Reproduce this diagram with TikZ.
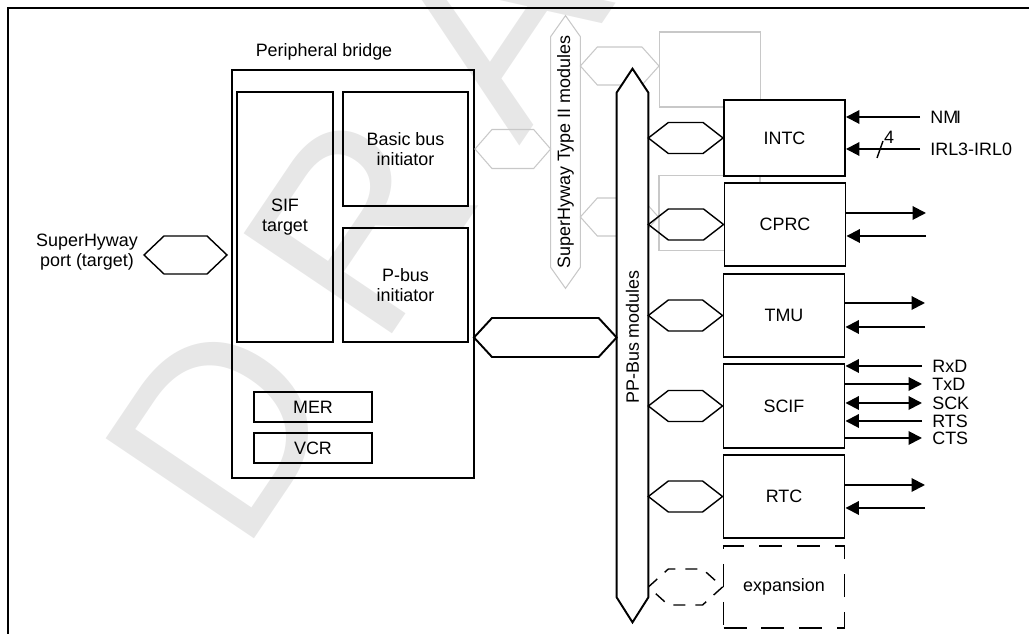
\documentclass[tikz,border=0pt]{standalone}
\usepackage{fontspec}
\setmainfont{Liberation Sans}
\usetikzlibrary{calc,arrows.meta,positioning}
\definecolor{wmGray}{RGB}{231,231,231}
\definecolor{shGray}{RGB}{200,200,200}
\newcommand{\pxl}{0.02cm}

\tikzset{
  blk/.style={draw, line width=1.1pt, inner sep=0pt, align=center},
  modbox/.style={blk, fill=white, minimum width=121*\pxl},
  ghostbox/.style={draw=shGray, line width=0.6pt, inner sep=0pt,
    minimum width=101*\pxl, minimum height=75*\pxl},
  ghostline/.style={draw=shGray, line width=0.6pt},
  hexline/.style={line width=0.8pt},
  hexlink/.style 2 args={to path={-- ($(\tikztostart)+(#1,-#2)$)
    -- ($(\tikztotarget)+(-#1,-#2)$) -- (\tikztotarget)
    -- ($(\tikztotarget)+(-#1,#2)$) -- ($(\tikztostart)+(#1,#2)$) -- cycle}},
  sig/.style={line width=1.1pt, -{Triangle[length=0.27cm,width=0.27cm]}},
  sigboth/.style={line width=1.1pt, {Triangle[length=0.27cm,width=0.27cm]}-{Triangle[length=0.27cm,width=0.27cm]}},
  sigtxt/.style={anchor=west, inner xsep=0.2cm, inner ysep=0pt},
}

\begin{document}
\begin{tikzpicture}[x=0.02cm, y=-0.02cm,
    every node/.style={font=\fontsize{10.2}{11.7}\selectfont}]
    \useasboundingbox (0,0) rectangle (1029,634);

    % watermark
    \node[text=wmGray, font=\fontsize{148}{148}\selectfont, rotate=56,
      anchor=base west, inner sep=0pt] (wm) at (242,557)
      {D\kern1.2cm R\kern1.2cm A\kern1.2cm F\kern1.2cm T};

    % frame
    \draw[line width=1.3pt] (1029,8) -- (8,8) -- (8,634);

    % peripheral bridge
    \node[blk, minimum width=242*\pxl, minimum height=408*\pxl] (bridge) at (353,274) {};
    \node (brlbl) at (324,52) {Peripheral bridge};
    \node[blk, minimum width=96*\pxl, minimum height=250*\pxl] (sif) at (285,217) {SIF\\target};
    \node[blk, minimum width=125*\pxl, minimum height=114*\pxl] (basic) at (405.5,149) {Basic bus\\initiator};
    \node[blk, minimum width=125*\pxl, minimum height=114*\pxl] (pbus) at (405.5,285) {P-bus\\initiator};
    \node[blk, minimum width=118*\pxl, minimum height=30*\pxl] (mer) at (313,407) {MER};
    \node[blk, minimum width=118*\pxl, minimum height=30*\pxl] (vcr) at (313,448) {VCR};

    % SuperHyway port
    \node[align=center] (port) at (87,252) {SuperHyway\\port (target)};
    \coordinate (portR) at (227,255);
    \draw[hexline, hexlink={20}{19}] (port.east |- portR) to (portR);

    % SuperHyway Type II modules (grey)
    \node[inner sep=0pt, minimum width=29*\pxl, minimum height=230*\pxl] (shbus) at (565.5,152) {};
    \draw[ghostline] (shbus.south west) -- (shbus.north west) -- ($(shbus.north)+(0,-21)$)
      -- (shbus.north east) -- (shbus.south east) -- ($(shbus.south)+(0,21)$) -- cycle;
    \node[rotate=90] (shlbl) at (shbus.center) {SuperHyway Type II modules};
    \node[ghostbox] (ghost1) at (710,69.5) {};
    \node[ghostbox] (ghost2) at (709.5,213) {};
    \coordinate (g1in) at ($(ghost1.west)+(0,-3.5)$);
    \coordinate (g2in) at ($(ghost2.west)+(0,4)$);
    \draw[ghostline, hexlink={17}{19.5}] (bridge.east |- basic.east) to (shbus.west |- basic.east);
    \draw[ghostline, hexlink={17}{19}] (shbus.east |- g1in) to (g1in);
    \draw[ghostline, hexlink={17}{19}] (shbus.east |- g2in) to (g2in);

    % PP-Bus
    \node[inner sep=0pt, minimum width=31*\pxl, minimum height=504*\pxl] (ppbus) at (632.5,345) {};
    \filldraw[fill=white, line width=1.1pt] (ppbus.south west) -- (ppbus.north west)
      -- ($(ppbus.north)+(0,-24)$) -- (ppbus.north east) -- (ppbus.south east)
      -- ($(ppbus.south)+(0,25)$) -- cycle;
    \node[rotate=90] (pplbl) at (632.5,337) {PP-Bus modules};
    \coordinate (brout) at (474,337.5);
    \draw[line width=1.1pt, hexlink={18}{19.5}] (brout) to (ppbus.west |- brout);

    % PP-Bus modules
    \node[modbox, minimum height=76*\pxl] (intc) at (784.5,138) {INTC};
    \node[modbox, minimum height=83*\pxl] (cprc) at (785,224.5) {CPRC};
    \node[modbox, minimum height=83*\pxl] (tmu) at (784,315.5) {TMU};
    \node[modbox, minimum height=84*\pxl] (scif) at (784,406) {SCIF};
    \node[modbox, minimum height=83*\pxl] (rtc) at (784,496.5) {RTC};
    \node[modbox, minimum height=82*\pxl, dash pattern=on 0.46cm off 0.3cm] (expn) at (784,587) {expansion};

    \foreach \m in {intc,cprc,tmu,scif,rtc}
      \draw[hexline, hexlink={20}{15.5}] (ppbus.east |- \m.west) to (\m.west);
    \draw[hexline, dash pattern=on 0.24cm off 0.2cm, hexlink={20}{18}] (ppbus.east |- expn.west) to (expn.west);

    % INTC signals
    \node[sigtxt] (nmi) at (920,117) {NM\kern-0.12em I};
    \node[sigtxt] (irl) at (920,149) {IRL3-IRL0};
    \draw[sig] (nmi.west) -- (intc.east |- nmi.west);
    \draw[sig] (irl.west) -- (intc.east |- irl.west);
    \draw[line width=0.8pt] (877,158) -- (883,141);
    \node (irlw) at (889,137) {4};

    % CPRC, TMU, RTC signals
    \coordinate (cprcO) at (926,213);
    \coordinate (cprcI) at (926,236);
    \draw[sig] (cprc.east |- cprcO) -- (cprcO);
    \draw[sig] (cprcI) -- (cprc.east |- cprcI);
    \coordinate (tmuO) at (925,303);
    \coordinate (tmuI) at (925,327);
    \draw[sig] (tmu.east |- tmuO) -- (tmuO);
    \draw[sig] (tmuI) -- (tmu.east |- tmuI);
    \coordinate (rtcO) at (925,485);
    \coordinate (rtcI) at (925,508);
    \draw[sig] (rtc.east |- rtcO) -- (rtcO);
    \draw[sig] (rtcI) -- (rtc.east |- rtcI);

    % SCIF signals
    \node[sigtxt] (rxd) at (922,366) {RxD};
    \node[sigtxt] (txd) at (922,384) {TxD};
    \node[sigtxt] (sck) at (922,403) {SCK};
    \node[sigtxt] (rts) at (922,421) {RTS};
    \node[sigtxt] (cts) at (922,438) {CTS};
    \draw[sig] (rxd.west) -- (scif.east |- rxd.west);
    \draw[sig] (scif.east |- txd.west) -- (txd.west);
    \draw[sigboth] (scif.east |- sck.west) -- (sck.west);
    \draw[sig] (rts.west) -- (scif.east |- rts.west);
    \draw[sig] (scif.east |- cts.west) -- (cts.west);
\end{tikzpicture}
\end{document}
